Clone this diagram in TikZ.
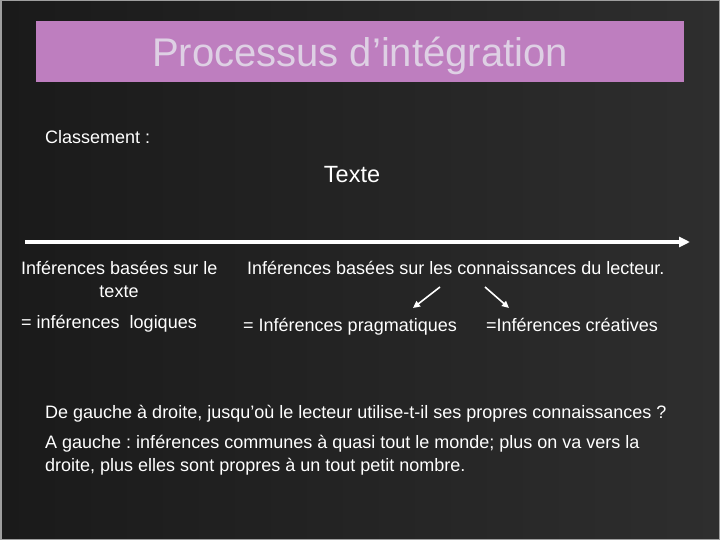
\documentclass[tikz,border=0pt]{standalone}
\usepackage{fontspec}
\setmainfont{Liberation Sans}
\frenchspacing
\usetikzlibrary{arrows.meta}
\definecolor{slidedark}{RGB}{26,26,26}
\definecolor{slidelight}{RGB}{46,46,46}
\definecolor{titlefill}{RGB}{190,126,191}
\definecolor{titleink}{RGB}{222,208,228}
\tikzstyle{bodytext}=[anchor=base west, inner sep=0pt, text=white, font=\fontsize{18}{21}\selectfont]
\tikzstyle{pointer}=[draw=white, line width=1.6pt, -{Triangle[length=7pt,width=6.5pt]}]
\newcommand{\bodytext}{\node[bodytext]}

\begin{document}
\begin{tikzpicture}[x=1pt, y=-1pt]
\useasboundingbox (0,0) rectangle (720,540);
\shade[left color=slidedark, right color=slidelight] (0,0) rectangle (720,540);
\draw[gray!75, line width=1.5pt] (0.75,0.75) rectangle (719.25,539.25);

% title bar
\node[fill=titlefill, minimum width=648pt, minimum height=61pt, inner sep=0pt] (titlebar) at (360,51.5) {};
\node[anchor=base, inner sep=0pt, text=titleink, font=\fontsize{40}{48}\selectfont] (title) at (360,67) {Processus d’intégration};

\bodytext (classement) at (45,144) {Classement :};
\node[anchor=base, inner sep=0pt, text=white, font=\fontsize{23.5}{28}\selectfont] (texte) at (352,183) {Texte};

% axis
\coordinate (axisbeg) at (25,242);
\coordinate (axisend) at (690,242);
\draw[white, line width=4pt, -{Triangle[length=11pt,width=10pt]}] (axisbeg) -- (axisend);

\bodytext (leftinf) at (21,274) {Inférences basées sur le};
\node[bodytext, anchor=base] (lefttexte) at (119,297) {texte};
\bodytext (rightinf) at (247,274) {Inférences basées sur les connaissances du lecteur.};

\bodytext (logiques) at (21,328) {= inférences\ \ logiques};
\bodytext (pragma) at (243,331) {= Inférences pragmatiques};
\bodytext (creatives) at (486,331) {=Inférences créatives};

\coordinate (pragbeg) at (440,287);
\coordinate (pragend) at (413,308);
\coordinate (creabeg) at (485,287);
\coordinate (creaend) at (509,308);
\path
    (pragbeg) edge[pointer] (pragend)
    (creabeg) edge[pointer] (creaend)
    ;

% remarks
\bodytext (question) at (45,418) {De gauche à droite, jusqu’où le lecteur utilise-t-il ses propres connaissances ?};
\bodytext (gauche) at (45,448) {A gauche : inférences communes à quasi tout le monde; plus on va vers la};
\bodytext (droite) at (45,471) {droite, plus elles sont propres à un tout petit nombre.};
\end{tikzpicture}
\end{document}
